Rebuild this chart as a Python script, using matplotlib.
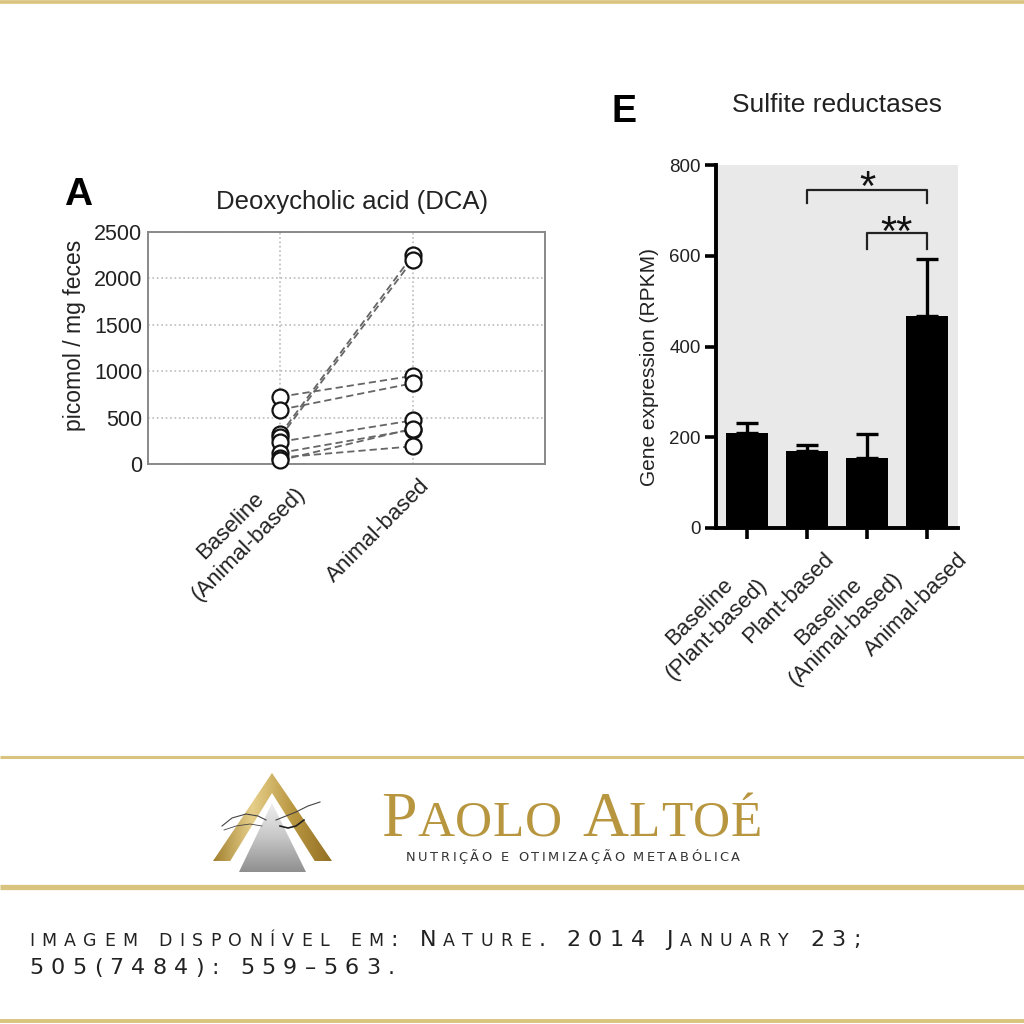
import matplotlib
matplotlib.use("Agg")
import matplotlib.pyplot as plt
import numpy as np
from matplotlib.patches import Polygon
from matplotlib.colors import LinearSegmentedColormap
from matplotlib.transforms import ScaledTranslation

# ---------------- data ----------------
dca_categories = ["Baseline\n(Animal-based)", "Animal-based"]
dca_baseline = [725, 585, 320, 290, 240, 120, 70, 40]
dca_animal = [950, 870, 2250, 2200, 470, 370, 190, 380]
dca_yticks = [0, 500, 1000, 1500, 2000, 2500]

sr_categories = ["Baseline\n(Plant-based)", "Plant-based", "Baseline\n(Animal-based)", "Animal-based"]
sr_values = [210, 170, 155, 468]
sr_err = [22, 12, 52, 125]
sr_yticks = [0, 200, 400, 600, 800]

title_a = "Deoxycholic acid (DCA)"
title_e = "Sulfite reductases"
ylabel_a = "picomol / mg feces"
ylabel_e = "Gene expression (RPKM)"
brand = "Paolo Altoé"
tagline = "NUTRIÇÃO E OTIMIZAÇÃO METABÓLICA"
ref_line1 = "imagem disponível em: Nature. 2014 January 23;"
ref_line2 = "505(7484): 559–563."

W = H = 1024
fig = plt.figure(figsize=(W / 100, H / 100), dpi=100)
fig.patch.set_facecolor("white")
SANS = "Liberation Sans"

def fr(left, top, right, bottom):
    return [left / W, 1 - bottom / H, (right - left) / W, (bottom - top) / H]

# ---------------- background axes (pixel coords) ----------------
bg = fig.add_axes([0, 0, 1, 1], zorder=0)
bg.set_axis_off()

gold = "#D8C47E"
for y, lw in [(2, 2.6), (757, 2.2), (887, 3.8), (1021, 2.8)]:
    bg.plot([0, W], [y, y], color=gold, lw=lw, solid_capstyle="butt")

# logo
gold_cmap = LinearSegmentedColormap.from_list("gold", ["#9C7A28", "#E6CF8A", "#B8953F", "#8E6C22"])
grad = np.linspace(0, 1, 256)[None, :] * np.ones((64, 1))
outer = Polygon([[272, 773], [213, 861], [332, 861]], closed=True, transform=bg.transData,
                facecolor="none", edgecolor="none")
bg.add_patch(outer)
im = bg.imshow(grad, extent=[210, 336, 864, 770], cmap=gold_cmap, aspect="auto", zorder=1)
im.set_clip_path(outer)
bg.add_patch(Polygon([[272, 793], [229, 863], [316, 863]], closed=True, facecolor="white",
                     edgecolor="none", zorder=2))
silver_cmap = LinearSegmentedColormap.from_list("silver", ["#F2F2F2", "#C8C8C8", "#8F8F8F"])
inner = Polygon([[272, 803], [239, 872], [306, 872]], closed=True, transform=bg.transData,
                facecolor="none", edgecolor="none")
bg.add_patch(inner)
sg = np.linspace(0, 1, 256)[:, None] * np.ones((1, 64))
im2 = bg.imshow(sg, extent=[236, 309, 872, 800], cmap=silver_cmap, aspect="auto", zorder=3)
im2.set_clip_path(inner)
# stylised hands
bg.plot([222, 232, 246, 258, 266], [826, 818, 814, 816, 820], color="#444", lw=0.8, zorder=4)
bg.plot([224, 236, 250, 262], [830, 826, 824, 826], color="#444", lw=0.6, zorder=4)
bg.plot([276, 286, 296, 308, 320], [820, 816, 812, 806, 802], color="#444", lw=0.8, zorder=4)
bg.plot([280, 288, 296, 304], [826, 828, 826, 820], color="#222", lw=1.2, zorder=4)

renderer = fig.canvas.get_renderer()

def place_runs(x, y, runs, tracking, color, family, weight="normal"):
    for ch, size in runs:
        if ch == " ":
            x += 0.30 * size * 100 / 72 + tracking
            continue
        t = bg.text(x, y, ch, fontsize=size, family=family, color=color,
                    va="baseline", ha="left", fontweight=weight, zorder=5)
        x += t.get_window_extent(renderer).width + tracking
    return x

def small_caps(s, big, small):
    return [(c.upper(), small if c.islower() else big) for c in s]

SERIF = "Liberation Serif"
place_runs(381, 836, small_caps(brand, 46, 37), 0.6, "#B7963F", SERIF)
place_runs(406, 861, [(c, 9.4) for c in tagline], 2.55, "#333333", "DejaVu Sans")

place_runs(29, 946, small_caps(ref_line1, 16, 12.5), 7.3, "#222222", "DejaVu Sans")
place_runs(29, 974, small_caps(ref_line2, 16, 12.5), 7.3, "#222222", "DejaVu Sans")

# panel letters and titles
bg.text(64, 205, "A", fontsize=28, fontweight="bold", family=SANS, color="black", va="baseline")
bg.text(611, 122, "E", fontsize=27, fontweight="bold", family=SANS, color="black", va="baseline")
bg.text(352, 209, title_a, fontsize=18.5, family=SANS, color="#222", ha="center", va="baseline")
bg.text(837, 112, title_e, fontsize=19, family=SANS, color="#222", ha="center", va="baseline")

bg.set_xlim(0, W)
bg.set_ylim(H, 0)

def shift_labels(labels, offsets_px):
    for lab, (dx, dy) in zip(labels, offsets_px):
        lab.set_transform(lab.get_transform() + ScaledTranslation(dx / 100, -dy / 100, fig.dpi_scale_trans))

# ---------------- panel A ----------------
axA = fig.add_axes(fr(148, 232, 545, 464), zorder=2)
axA.patch.set_alpha(0)
for b, a in zip(dca_baseline, dca_animal):
    axA.plot([0, 1], [b, a], color="#666666", lw=1.3, dashes=(4, 2.2), zorder=2)
axA.plot([0] * len(dca_baseline), dca_baseline, "o", ms=11.5, mfc="white", mec="#111", mew=1.6,
         zorder=3, clip_on=False)
axA.plot([1] * len(dca_animal), dca_animal, "o", ms=11.5, mfc="white", mec="#111", mew=1.6,
         zorder=3, clip_on=False)
axA.set_xlim(-1, 2)
axA.set_ylim(0, 2500)
axA.set_yticks(dca_yticks)
axA.set_xticks([0, 1])
axA.set_xticklabels(dca_categories, rotation=45, ha="right", rotation_mode="anchor",
                    multialignment="center", linespacing=1.3)
axA.tick_params(axis="both", length=0, labelsize=15.5, colors="#222", pad=4)
axA.tick_params(axis="x", pad=8, labelsize=16)
for lab in axA.get_xticklabels() + axA.get_yticklabels():
    lab.set_family(SANS)
shift_labels(axA.get_xticklabels(), [(-4, -10), (6, 0)])
axA.grid(True, color="#bbbbbb", linestyle=":", lw=1.2)
axA.set_axisbelow(True)
for s in axA.spines.values():
    s.set_color("#888888")
    s.set_linewidth(1.4)
axA.set_ylabel(ylabel_a, fontsize=16.5, family=SANS, color="#222")
axA.yaxis.set_label_coords(-0.156, 0.556)

# ---------------- panel E ----------------
axE = fig.add_axes(fr(716, 165, 958, 528), zorder=2)
axE.set_facecolor("#E9E9E9")
x = np.arange(len(sr_values))
axE.bar(x, sr_values, width=0.7, color="black", zorder=2)
axE.errorbar(x, sr_values, yerr=[np.zeros(len(sr_err)), sr_err], fmt="none", ecolor="black",
             elinewidth=2.4, capsize=8, capthick=2.4, zorder=3, clip_on=False)
axE.set_xlim(-0.52, 3.52)
axE.set_ylim(0, 800)
axE.set_yticks(sr_yticks)
axE.set_xticks(x)
axE.set_xticklabels(sr_categories, rotation=45, ha="right", rotation_mode="anchor",
                    multialignment="center")
axE.tick_params(axis="both", direction="out", length=8, width=2.6, labelsize=13.5,
                colors="black", labelcolor="#222", pad=3)
axE.tick_params(axis="x", pad=7, labelsize=16)
for lab in axE.get_xticklabels() + axE.get_yticklabels():
    lab.set_family(SANS)
shift_labels(axE.get_xticklabels(), [(-8, 8), (16, 0), (8, 2), (30, 0)])
for side in ["top", "right"]:
    axE.spines[side].set_visible(False)
for side in ["left", "bottom"]:
    axE.spines[side].set_linewidth(2.8)
    axE.spines[side].set_color("black")
axE.set_ylabel(ylabel_e, fontsize=15, family=SANS, color="#222")
axE.yaxis.set_label_coords(-0.2355, 0.444)

# significance brackets
axE.plot([1, 1, 3, 3], [716, 746, 746, 716], color="#222", lw=1.6, zorder=4)
axE.plot([2, 2, 3, 3], [614, 650, 650, 614], color="#222", lw=1.6, zorder=4)
axE.text(2, 724, "*", fontsize=30, family=SANS, ha="center", va="baseline", color="#111")
axE.text(2.5, 623, "**", fontsize=30, family=SANS, ha="center", va="baseline", color="#111")

fig.savefig("out.png", dpi=100, facecolor="white")
